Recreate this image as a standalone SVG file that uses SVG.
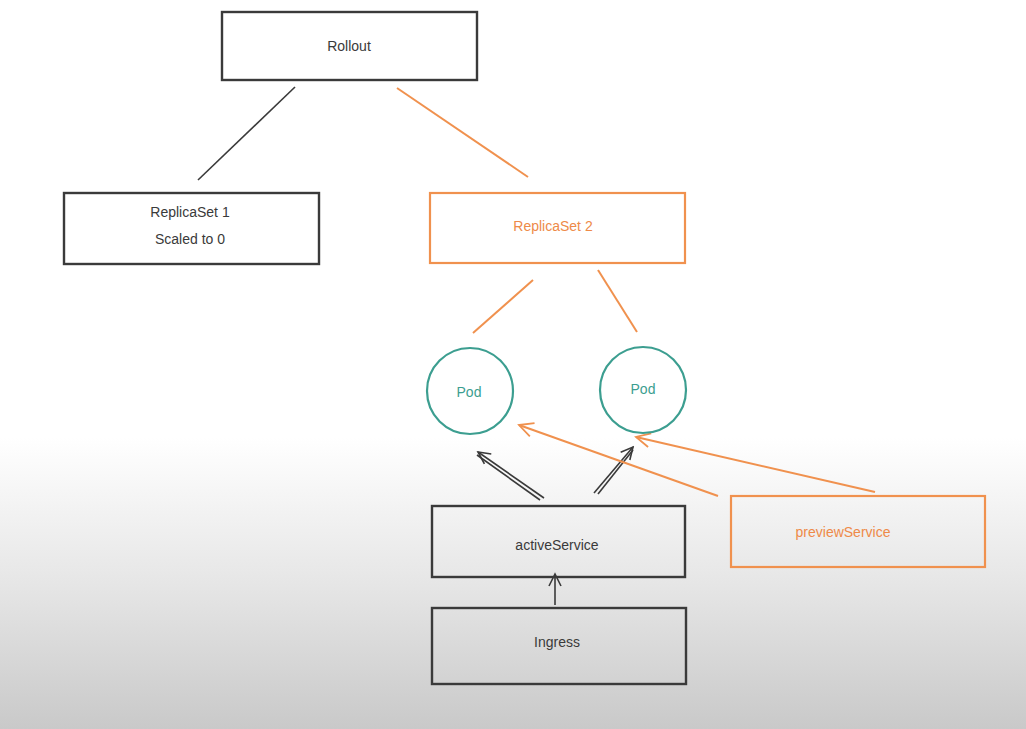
<svg xmlns="http://www.w3.org/2000/svg" width="1026" height="729" viewBox="0 0 1026 729">
<defs>
<linearGradient id="bg" x1="0" y1="0" x2="0" y2="1">
<stop offset="0" stop-color="#ffffff"/>
<stop offset="0.6" stop-color="#ffffff"/>
<stop offset="0.8" stop-color="#e6e6e6"/>
<stop offset="1" stop-color="#c9c9c9"/>
</linearGradient>
<marker id="ab" viewBox="0 0 16 16" refX="14" refY="8" markerWidth="16" markerHeight="16" markerUnits="userSpaceOnUse" orient="auto">
<path d="M2 2 L14 8 L2 14" fill="none" stroke="#3a3a3a" stroke-width="1.6"/>
</marker>
<marker id="ao" viewBox="0 0 18 18" refX="16" refY="9" markerWidth="18" markerHeight="18" markerUnits="userSpaceOnUse" orient="auto">
<path d="M2 2 L16 9 L2 16" fill="none" stroke="#f0914e" stroke-width="1.8"/>
</marker>
</defs>
<style>
.bk{fill:none;stroke:#3a3a3a;stroke-width:2.4}
.bk2{fill:none;stroke:#3a3a3a;stroke-width:1}
.or{fill:none;stroke:#f0914e;stroke-width:2.2}
.tl{fill:none;stroke:#3c9e90;stroke-width:2.2}
.t{font-family:"Liberation Sans",Arial,sans-serif;font-size:14px;text-anchor:middle;dominant-baseline:middle}
.tb{fill:#3a3a3a}
.to{fill:#ee8a48}
.tt{fill:#3c9e90}
.lb{stroke:#3a3a3a;stroke-width:1.6;fill:none}
.lo{stroke:#f0914e;stroke-width:2;fill:none}
</style>
<rect x="0" y="0" width="1026" height="729" fill="url(#bg)"/>

<g id="connectors">
<line class="lb" x1="295" y1="87" x2="198" y2="180"/>
<line class="lo" x1="397" y1="88" x2="528" y2="177"/>
<line class="lo" x1="533" y1="280" x2="473" y2="333"/>
<line class="lo" x1="598" y1="270" x2="637" y2="332"/>
<line class="lb" x1="544" y1="498" x2="478" y2="452" marker-end="url(#ab)"/>
<line class="lb" x1="540" y1="500" x2="477" y2="455"/>
<line class="lb" x1="594" y1="493" x2="633" y2="447" marker-end="url(#ab)"/>
<line class="lb" x1="598" y1="494" x2="633" y2="450"/>
<line class="lo" x1="718" y1="496" x2="519" y2="425" marker-end="url(#ao)"/>
<line class="lo" x1="875" y1="492" x2="636" y2="437" marker-end="url(#ao)"/>
<line class="lb" x1="555" y1="605" x2="555" y2="574" marker-end="url(#ab)"/>
</g>

<g id="rollout">
<rect class="bk" x="222" y="12" width="255" height="68"/>
<text class="t tb" x="349" y="47">Rollout</text>
</g>
<g id="replicaset1">
<rect class="bk" x="64" y="193" width="255" height="71"/>
<text class="t tb" x="190" y="213">ReplicaSet 1</text>
<text class="t tb" x="190" y="240">Scaled to 0</text>
</g>
<g id="replicaset2">
<rect class="or" x="430" y="193" width="255" height="70"/>
<text class="t to" x="553" y="227">ReplicaSet 2</text>
</g>
<g id="pod1">
<circle class="tl" cx="470" cy="391" r="43"/>
<text class="t tt" x="469" y="393">Pod</text>
</g>
<g id="pod2">
<circle class="tl" cx="643" cy="390" r="43"/>
<text class="t tt" x="643" y="390">Pod</text>
</g>
<g id="activeservice">
<rect class="bk" x="432" y="506" width="253" height="71"/>
<text class="t tb" x="557" y="546">activeService</text>
</g>
<g id="previewservice">
<rect class="or" x="731" y="496" width="254" height="71"/>
<text class="t to" x="843" y="533">previewService</text>
</g>
<g id="ingress">
<rect class="bk" x="432" y="608" width="254" height="76"/>
<text class="t tb" x="557" y="643">Ingress</text>
</g>
</svg>
